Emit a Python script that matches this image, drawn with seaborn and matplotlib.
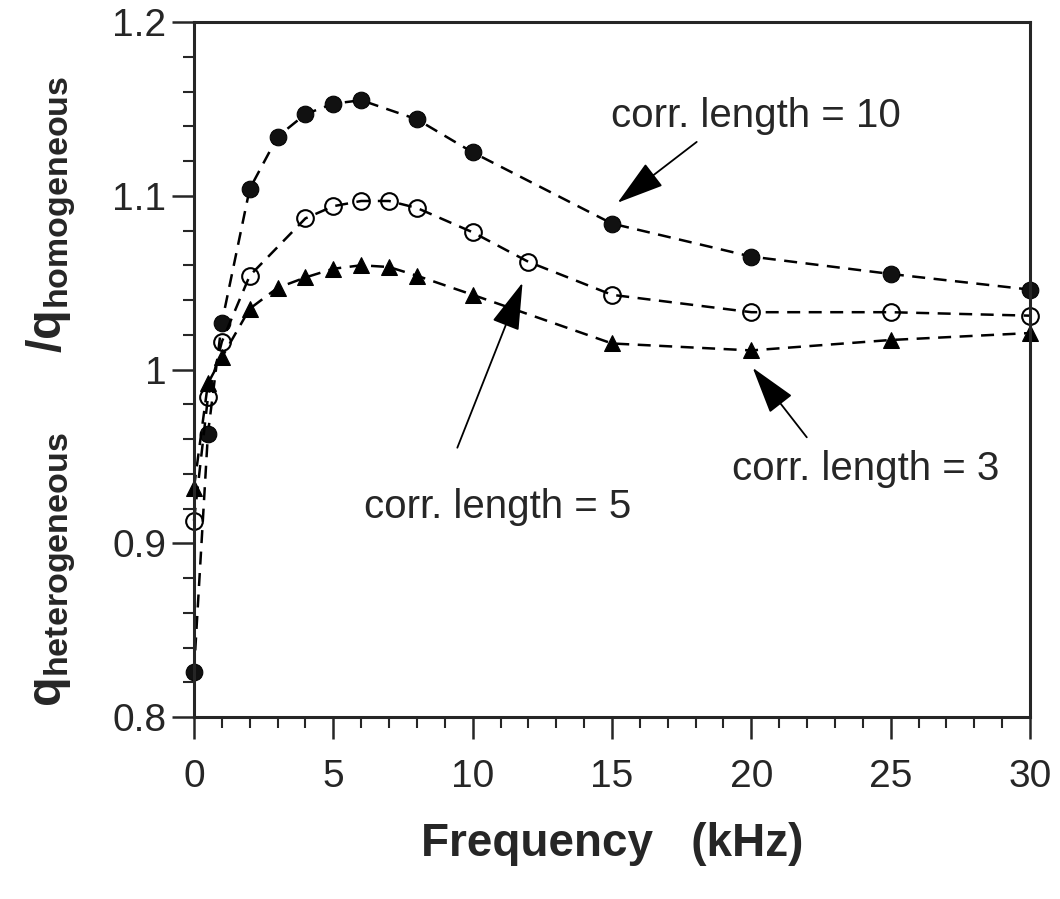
import numpy as np
import pandas as pd
import matplotlib
matplotlib.use("Agg")
import matplotlib.pyplot as plt
from matplotlib.ticker import MultipleLocator, FuncFormatter
import seaborn as sns

# values (frequency in kHz, ratio q_het / q_hom)
freq_cl10 = [0, 0.5, 1, 2, 3, 4, 5, 6, 8, 10, 15, 20, 25, 30]
ratio_cl10 = [0.826, 0.963, 1.027, 1.104, 1.134, 1.147, 1.153, 1.155, 1.144, 1.125, 1.084, 1.065, 1.055, 1.046]

freq_cl5 = [0, 0.5, 1, 2, 4, 5, 6, 7, 8, 10, 12, 15, 20, 25, 30]
ratio_cl5 = [0.913, 0.984, 1.016, 1.054, 1.087, 1.094, 1.097, 1.097, 1.093, 1.079, 1.062, 1.043, 1.033, 1.033, 1.031]

freq_cl3 = [0, 0.5, 1, 2, 3, 4, 5, 6, 7, 8, 10, 15, 20, 25, 30]
ratio_cl3 = [0.932, 0.992, 1.007, 1.035, 1.047, 1.053, 1.058, 1.060, 1.059, 1.054, 1.043, 1.015, 1.011, 1.017, 1.021]

labels = ["corr. length = 10", "corr. length = 5", "corr. length = 3"]
label_xy = [(20.15, 1.146), (10.9, 0.921), (24.1, 0.943)]
arrow_tail = [(18.04, 1.131), (9.45, 0.955), (21.99, 0.961)]
arrow_tip = [(15.2, 1.096), (11.79, 1.050), (20.05, 1.001)]

sns.set_style("ticks")
plt.rcParams["font.family"] = ["Liberation Sans", "DejaVu Sans"]
plt.rcParams["mathtext.fontset"] = "custom"
plt.rcParams["mathtext.rm"] = "Liberation Sans:bold"
plt.rcParams["mathtext.bf"] = "Liberation Sans:bold"

fig = plt.figure(figsize=(10.6, 8.99), dpi=100)
ax = fig.add_axes([0.183, 0.2024, 0.7887, 0.7731])

series = [
    (freq_cl10, ratio_cl10, dict(marker="o", markersize=12, markerfacecolor="#111111", markeredgecolor="black")),
    (freq_cl5, ratio_cl5, dict(marker="o", markersize=12, markerfacecolor="none", markeredgecolor="black", markeredgewidth=1.5)),
    (freq_cl3, ratio_cl3, dict(marker="^", markersize=11, markerfacecolor="black", markeredgecolor="black")),
]
for xs, ys, mk in series:
    df = pd.DataFrame({"freq": xs, "ratio": ys})
    sns.lineplot(data=df, x="freq", y="ratio", ax=ax, color="black", linestyle="--",
                 linewidth=1.8, clip_on=False, **mk)

for line in ax.lines:
    line.set_dashes([5.2, 3.4])

for txt, pos, tail, tip in zip(labels, label_xy, arrow_tail, arrow_tip):
    ax.text(pos[0], pos[1], txt, fontsize=29, ha="center", va="center")
    ax.annotate("", xy=tip, xytext=tail,
                arrowprops=dict(arrowstyle="-|>,head_length=1.5,head_width=0.45",
                                mutation_scale=20, lw=1.3, color="black",
                                shrinkA=0, shrinkB=0))

ax.set_xlim(0, 30)
ax.set_ylim(0.8, 1.2)
ax.xaxis.set_major_locator(MultipleLocator(5))
ax.xaxis.set_minor_locator(MultipleLocator(1))
ax.yaxis.set_major_locator(MultipleLocator(0.1))
ax.yaxis.set_minor_locator(MultipleLocator(0.02))
ax.yaxis.set_major_formatter(FuncFormatter(lambda v, p: f"{v:g}"))

ax.tick_params(axis="both", which="major", direction="out", length=16, width=1.8,
               labelsize=28, top=False, right=False)
ax.tick_params(axis="x", which="major", pad=14)
ax.tick_params(axis="y", which="major", pad=4)
ax.tick_params(axis="both", which="minor", direction="out", length=8, width=1.5,
               top=False, right=False)

for sp in ax.spines.values():
    sp.set_linewidth(2.2)
    sp.set_visible(True)

ax.set_xlabel("Frequency   (kHz)", fontsize=33, fontweight="bold", labelpad=20)
ax.set_ylabel(r"$\mathrm{q_{heterogeneous}\ \ \ \ \ /q_{homogeneous}}$", fontsize=35)
ax.yaxis.set_label_coords(-0.139, 0.468)

fig.savefig("out.png", dpi=100)
